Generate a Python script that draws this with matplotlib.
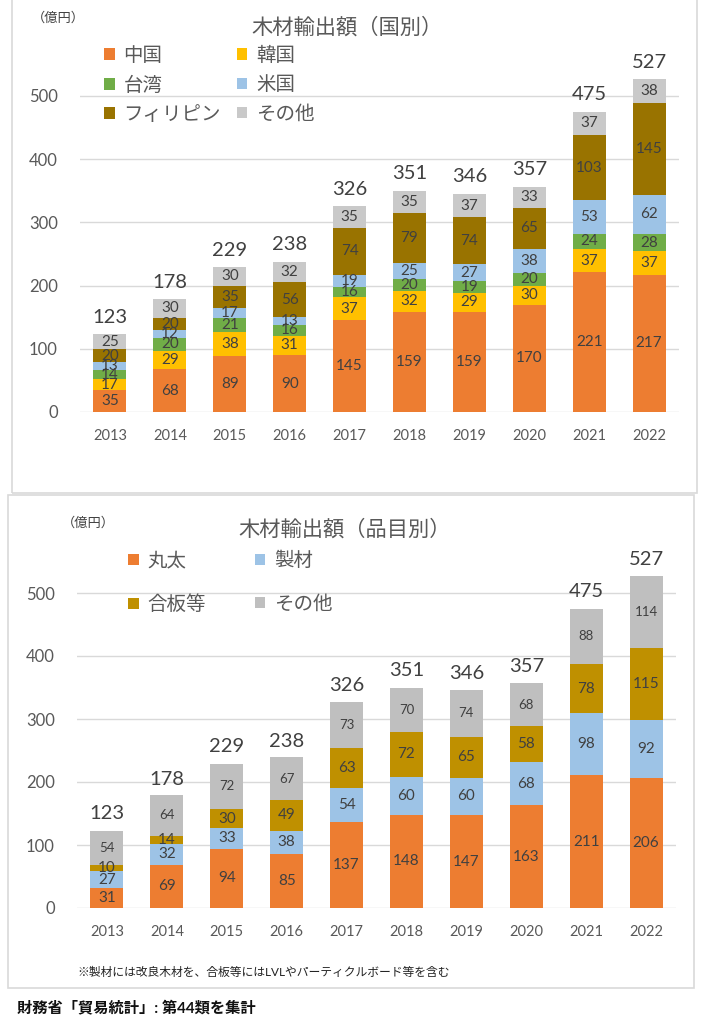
import matplotlib
matplotlib.use("Agg")
import matplotlib.pyplot as plt
import numpy as np
from matplotlib.patches import Patch, Rectangle

plt.rcParams['font.family'] = ['Lato', 'Noto Sans CJK JP', 'DejaVu Sans']

years = ['2013', '2014', '2015', '2016', '2017', '2018', '2019', '2020', '2021', '2022']

# 国別 (億円)
country_names = ['中国', '韓国', '台湾', '米国', 'フィリピン', 'その他']
china = [35, 68, 89, 90, 145, 159, 159, 170, 221, 217]
korea = [17, 29, 38, 31, 37, 32, 29, 30, 37, 37]
taiwan = [14, 20, 21, 16, 16, 20, 19, 20, 24, 28]
usa = [13, 12, 17, 13, 19, 25, 27, 38, 53, 62]
philippines = [20, 20, 35, 56, 74, 79, 74, 65, 103, 145]
country_other = [25, 30, 30, 32, 35, 35, 37, 33, 37, 38]
country_totals = [123, 178, 229, 238, 326, 351, 346, 357, 475, 527]

# 品目別 (億円)
item_names = ['丸太', '製材', '合板等', 'その他']
logs = [31, 69, 94, 85, 137, 148, 147, 163, 211, 206]
lumber = [27, 32, 33, 38, 54, 60, 60, 68, 98, 92]
plywood = [10, 14, 30, 49, 63, 72, 65, 58, 78, 115]
item_other = [54, 64, 72, 67, 73, 70, 74, 68, 88, 114]
item_totals = [123, 178, 229, 238, 326, 351, 346, 357, 475, 527]

country_colors = ['#ED7D31', '#FFC000', '#70AD47', '#9DC3E6', '#997300', '#C9C9C9']
item_colors = ['#ED7D31', '#9DC3E6', '#BF9000', '#BFBFBF']

W, H = 715, 1024
TXT = '#404040'
AX = '#595959'


def fx(px):
    return px / W


def fy(py):
    return 1 - py / H


fig = plt.figure(figsize=(W / 100, H / 100), dpi=100)

# chart frames
fig.patches.append(Rectangle((fx(12), fy(493)), fx(697) - fx(12), fy(-5) - fy(493),
                             transform=fig.transFigure, fill=False, ec='#D9D9D9', lw=1.2))
fig.patches.append(Rectangle((fx(8), fy(988)), fx(694) - fx(8), fy(495) - fy(988),
                             transform=fig.transFigure, fill=False, ec='#D9D9D9', lw=1.2))


def stacked(ax, series, colors, names, totals, small_last=False):
    x = np.arange(len(years))
    bottom = np.zeros(len(years))
    handles = []
    for k, (vals, col, name) in enumerate(zip(series, colors, names)):
        bars = ax.bar(x, vals, 0.55, bottom=bottom, color=col, zorder=2, label=name)
        fs = 9.5 if (small_last and k == len(series) - 1) else 11
        ax.bar_label(bars, labels=[str(v) for v in vals], label_type='center',
                     fontsize=fs, color=TXT)
        bottom += np.array(vals)
        handles.append(Patch(facecolor=col, label=name))
    for i, t in enumerate(totals):
        ax.annotate(str(t), (i, t), xytext=(0, 6), textcoords='offset points',
                    ha='center', va='bottom', fontsize=14.5, color=TXT)
    ax.set_xlim(-0.5, len(years) - 0.5)
    ax.set_ylim(0, 580)
    ax.set_yticks(range(0, 501, 100))
    ax.set_xticks(x)
    ax.set_xticklabels(years)
    ax.tick_params(axis='x', length=0, pad=12, labelsize=10.5, labelcolor=AX)
    ax.tick_params(axis='y', length=0, pad=16, labelsize=12, labelcolor=AX)
    ax.grid(axis='y', color='#D9D9D9', lw=1, zorder=0)
    ax.set_axisbelow(True)
    for s in ax.spines.values():
        s.set_visible(False)
    return handles


# top chart
ax1 = fig.add_axes([fx(80), fy(412), fx(679) - fx(80), 580 * 0.632 / H])
h1 = stacked(ax1, [china, korea, taiwan, usa, philippines, country_other],
             country_colors, country_names, country_totals)
order1 = [0, 2, 4, 1, 3, 5]
fig.legend([h1[i] for i in order1], [country_names[i] for i in order1],
           loc='upper left', bbox_to_anchor=(fx(104), fy(46)), ncol=2, frameon=False,
           fontsize=14, labelcolor=AX, handlelength=0.55, handleheight=0.55,
           handletextpad=0.45, columnspacing=0.8, labelspacing=0.58, borderpad=0,
           borderaxespad=0)
fig.text(fx(347), fy(27), '木材輸出額（国別）', ha='center', va='center', fontsize=15.3, color=AX)
fig.text(fx(58), fy(17), '（億円）', ha='center', va='center', fontsize=9.5, color=TXT)

# bottom chart
ax2 = fig.add_axes([fx(77), fy(908), fx(676) - fx(77), 580 * 0.63 / H])
h2 = stacked(ax2, [logs, lumber, plywood, item_other], item_colors, item_names,
             item_totals, small_last=True)
order2 = [0, 2, 1, 3]
fig.legend([h2[i] for i in order2], [item_names[i] for i in order2],
           loc='upper left', bbox_to_anchor=(fx(128), fy(551)), ncol=2, frameon=False,
           fontsize=14, labelcolor=AX, handlelength=0.55, handleheight=0.55,
           handletextpad=0.45, columnspacing=2.5, labelspacing=1.3, borderpad=0,
           borderaxespad=0)
fig.text(fx(345), fy(529), '木材輸出額（品目別）', ha='center', va='center', fontsize=15.3, color=AX)
fig.text(fx(88), fy(522), '（億円）', ha='center', va='center', fontsize=9.5, color=TXT)

fig.text(fx(77), fy(972), '※製材には改良木材を、合板等にはLVLやパーティクルボード等を含む',
         ha='left', va='center', fontsize=8.5, color='#222222')
fig.text(fx(17), fy(1008), '財務省「貿易統計」: 第44類を集計', ha='left', va='center',
         fontsize=11, fontweight='bold', color='#111111')

fig.savefig('out.png', dpi=100, facecolor='white')
